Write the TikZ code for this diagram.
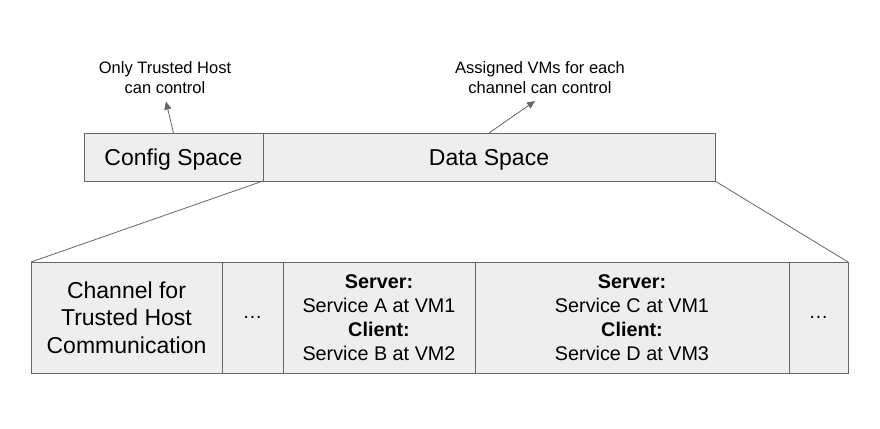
\documentclass[tikz,border=0pt]{standalone}
\usepackage{fontspec}
\setmainfont{Liberation Sans}
\usetikzlibrary{positioning,arrows.meta}
\definecolor{cellfill}{HTML}{EEEEEE}
\definecolor{cellline}{HTML}{666666}
\tikzset{
	cell/.style={draw=cellline,fill=cellfill,line width=0.8pt,outer sep=0pt,inner sep=0pt,
			minimum height=#1,align=center},
	big/.style={font=\fontsize{23}{27.5}\selectfont},
	mid/.style={font=\fontsize{19.8}{24}\selectfont},
	spacebox/.style={cell=48pt,big,text depth=0pt},
	note/.style={align=center,font=\fontsize{16.5}{20}\selectfont},
	pointer/.style={draw=cellline,line width=0.8pt,-{Triangle[length=8pt,width=7pt]}},
	zoomline/.style={draw=cellline,line width=0.8pt}
}
\begin{document}
\begin{tikzpicture}[x=1pt,y=-1pt]
			\useasboundingbox (0,0) rectangle (880,428);

			% Register spaces
			\node[spacebox,minimum width=179pt,anchor=north west] (config) at (84,133) {Config Space};
			\node[spacebox,minimum width=452pt,right=0pt of config] (data) {Data Space};

			% Who can control
			\node[note] (trusted) at (165,78) {Only Trusted Host\\can control};
			\node[note] (assigned) at (540,78) {Assigned VMs for each\\channel can control};
			\draw[pointer,shorten >=4pt] (config.north) -- (trusted.south);
			\draw[pointer,shorten >=6pt] (data.north) -- (assigned.south);

			% Channels
			\node[cell=111pt,big,minimum width=191pt,anchor=north west] (hostch) at (31,262)
				{Channel for\\Trusted Host\\Communication};
			\node[cell=111pt,mid,minimum width=61pt,right=0pt of hostch] (gap1) {\dots};
			\node[cell=111pt,mid,minimum width=192pt,right=0pt of gap1] (chab)
				{\textbf{Server:}\\Service A at VM1\\\textbf{Client:}\\Service B at VM2};
			\node[cell=111pt,mid,minimum width=314pt,right=0pt of chab] (chcd)
				{\textbf{Server:}\\Service C at VM1\\\textbf{Client:}\\Service D at VM3};
			\node[cell=111pt,mid,minimum width=59pt,right=0pt of chcd] (gap2) {\dots};

			% Zoom lines
			\draw[zoomline] (data.south west) -- (hostch.north west);
			\draw[zoomline] (data.south east) -- (gap2.north east);
		\end{tikzpicture}
\end{document}
